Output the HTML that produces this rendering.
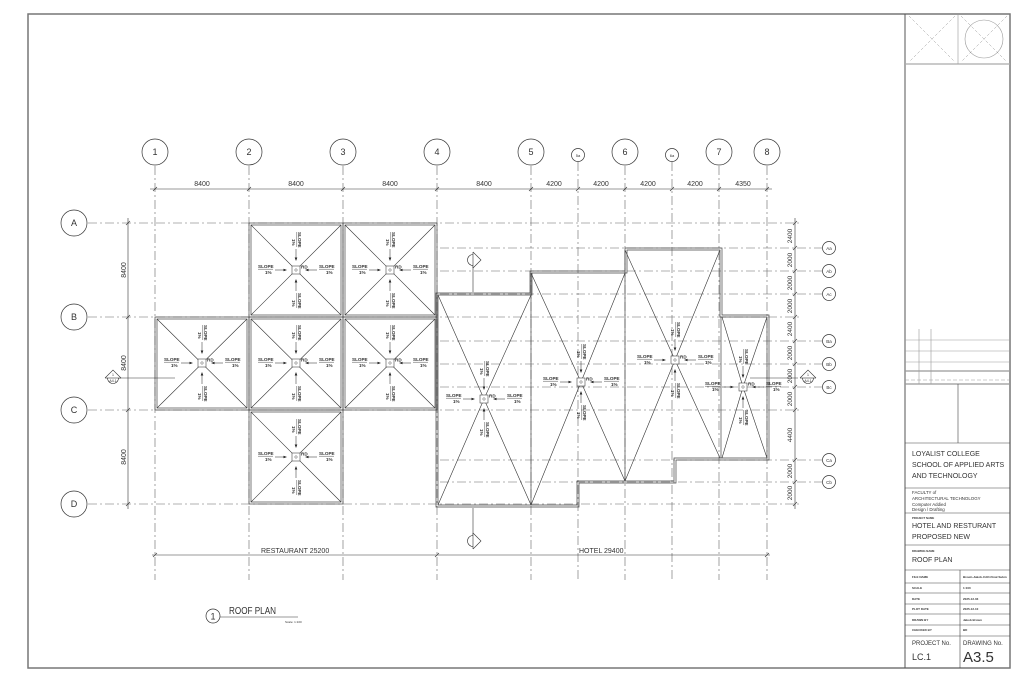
<!DOCTYPE html>
<html><head><meta charset="utf-8"><style>
html,body{margin:0;padding:0;background:#fff}
svg{display:block}
text{font-family:"Liberation Sans",sans-serif;fill:#333}
.g{stroke:#666;stroke-width:.6;stroke-dasharray:9 3 2 3;fill:none}
.l{stroke:#333;stroke-width:.6;fill:none}
.o{stroke:#444;stroke-width:.7;fill:none}
.b{fill:#fff;stroke:#333;stroke-width:.7}
.tb{stroke:#444;stroke-width:.6;fill:none}
</style></head><body>
<svg width="1024" height="682" viewBox="0 0 1024 682" xmlns="http://www.w3.org/2000/svg">
<defs>
<g id="lab" stroke="none">
<text x="-38" y="-2" font-size="4.6" font-weight="bold" fill="#222" font-family="Liberation Sans, sans-serif">SLOPE</text>
<line x1="-38" y1="-0.8" x2="-23" y2="-0.8" stroke="#222" stroke-width=".4"/>
<text x="-31" y="4" font-size="4.6" font-weight="bold" fill="#222" font-family="Liberation Sans, sans-serif">1%</text>
<line x1="-21" y1="0" x2="-11" y2="0" stroke="#222" stroke-width=".5"/><path d="M-9,0 l-3.5,-1.3 v2.6z" fill="#222"/>
<line x1="11" y1="0" x2="21" y2="0" stroke="#222" stroke-width=".5"/><path d="M9,0 l3.5,-1.3 v2.6z" fill="#222"/>
<text x="23" y="-2" font-size="4.6" font-weight="bold" fill="#222" font-family="Liberation Sans, sans-serif">SLOPE</text>
<line x1="23" y1="-0.8" x2="38" y2="-0.8" stroke="#222" stroke-width=".4"/>
<text x="30" y="4" font-size="4.6" font-weight="bold" fill="#222" font-family="Liberation Sans, sans-serif">1%</text>
</g>
<g id="dr">
<rect x="-4" y="-4" width="8" height="8" fill="#fff" stroke="#222" stroke-width=".5"/><circle r="1.2" fill="none" stroke="#222" stroke-width=".4"/>
<text x="5" y="-1.5" font-size="4.6" font-weight="bold" fill="#222" font-family="Liberation Sans, sans-serif">RD</text>
<use href="#lab"/><use href="#lab" transform="rotate(90)"/>
</g>
</defs>

<rect x="28" y="14" width="982" height="654" fill="none" stroke="#777" stroke-width="1.5"/>
<line x1="905" y1="14" x2="905" y2="668" stroke="#555" stroke-width="1"/>

<g class="g">
<line x1="155" y1="166" x2="155" y2="580"/>
<line x1="249" y1="166" x2="249" y2="580"/>
<line x1="343" y1="166" x2="343" y2="580"/>
<line x1="437" y1="166" x2="437" y2="580"/>
<line x1="531" y1="166" x2="531" y2="580"/>
<line x1="578" y1="162" x2="578" y2="580"/>
<line x1="625" y1="166" x2="625" y2="580"/>
<line x1="672" y1="162" x2="672" y2="580"/>
<line x1="719" y1="166" x2="719" y2="580"/>
<line x1="767" y1="166" x2="767" y2="580"/>
<line x1="88" y1="223" x2="800" y2="223"/>
<line x1="88" y1="317" x2="800" y2="317"/>
<line x1="88" y1="410" x2="800" y2="410"/>
<line x1="88" y1="504" x2="800" y2="504"/>
<line x1="440" y1="248" x2="822" y2="248"/>
<line x1="440" y1="271" x2="822" y2="271"/>
<line x1="440" y1="294" x2="822" y2="294"/>
<line x1="440" y1="341" x2="822" y2="341"/>
<line x1="440" y1="364" x2="822" y2="364"/>
<line x1="440" y1="387" x2="822" y2="387"/>
<line x1="440" y1="460" x2="822" y2="460"/>
<line x1="440" y1="482" x2="822" y2="482"/>
</g>

<g font-size="9" text-anchor="middle">
<circle class="b" cx="155" cy="152" r="13"/><text x="155" y="155">1</text>
<circle class="b" cx="249" cy="152" r="13"/><text x="249" y="155">2</text>
<circle class="b" cx="343" cy="152" r="13"/><text x="343" y="155">3</text>
<circle class="b" cx="437" cy="152" r="13"/><text x="437" y="155">4</text>
<circle class="b" cx="531" cy="152" r="13"/><text x="531" y="155">5</text>
<circle class="b" cx="625" cy="152" r="13"/><text x="625" y="155">6</text>
<circle class="b" cx="719" cy="152" r="13"/><text x="719" y="155">7</text>
<circle class="b" cx="767" cy="152" r="13"/><text x="767" y="155">8</text>
<circle class="b" cx="578" cy="155" r="6.5"/><text x="578" y="157" font-size="4">5a</text>
<circle class="b" cx="672" cy="155" r="6.5"/><text x="672" y="157" font-size="4">6a</text>
<circle class="b" cx="74" cy="223" r="13"/><text x="74" y="226">A</text>
<circle class="b" cx="74" cy="317" r="13"/><text x="74" y="320">B</text>
<circle class="b" cx="74" cy="410" r="13"/><text x="74" y="413">C</text>
<circle class="b" cx="74" cy="504" r="13"/><text x="74" y="507">D</text>
</g>
<g font-size="4.5" text-anchor="middle">
<circle class="b" cx="829" cy="248" r="6.5"/><text x="829" y="250">Aa</text>
<circle class="b" cx="829" cy="271" r="6.5"/><text x="829" y="273">Ab</text>
<circle class="b" cx="829" cy="294" r="6.5"/><text x="829" y="296">Ac</text>
<circle class="b" cx="829" cy="341" r="6.5"/><text x="829" y="343">Ba</text>
<circle class="b" cx="829" cy="364" r="6.5"/><text x="829" y="366">Bb</text>
<circle class="b" cx="829" cy="387" r="6.5"/><text x="829" y="389">Bc</text>
<circle class="b" cx="829" cy="460" r="6.5"/><text x="829" y="462">Ca</text>
<circle class="b" cx="829" cy="482" r="6.5"/><text x="829" y="484">Cb</text>
</g>

<g class="l">
<line x1="150" y1="189" x2="772" y2="189"/>
<path d="M153,191 l4,-4 M247,191 l4,-4 M341,191 l4,-4 M435,191 l4,-4 M529,191 l4,-4 M576,191 l4,-4 M623,191 l4,-4 M670,191 l4,-4 M717,191 l4,-4 M765,191 l4,-4"/>
</g>
<g font-size="7" text-anchor="middle" fill="#444">
<text x="202" y="186">8400</text><text x="296" y="186">8400</text><text x="390" y="186">8400</text><text x="484" y="186">8400</text>
<text x="554" y="186">4200</text><text x="601" y="186">4200</text><text x="648" y="186">4200</text><text x="695" y="186">4200</text><text x="743" y="186">4350</text>
</g>
<g class="l"><line x1="128" y1="218" x2="128" y2="509"/>
<path d="M126,225 l4,-4 M126,319 l4,-4 M126,412 l4,-4 M126,506 l4,-4"/></g>
<g font-size="7" text-anchor="middle">
<text transform="translate(126,270) rotate(-90)">8400</text>
<text transform="translate(126,363) rotate(-90)">8400</text>
<text transform="translate(126,457) rotate(-90)">8400</text>
</g>
<g class="l"><line x1="795" y1="218" x2="795" y2="509"/>
<path d="M793,225 l4,-4 M793,250 l4,-4 M793,273 l4,-4 M793,296 l4,-4 M793,319 l4,-4 M793,343 l4,-4 M793,366 l4,-4 M793,389 l4,-4 M793,412 l4,-4 M793,462 l4,-4 M793,484 l4,-4 M793,506 l4,-4"/></g>
<g font-size="6.5" text-anchor="middle">
<text transform="translate(792,236) rotate(-90)">2400</text>
<text transform="translate(792,260) rotate(-90)">2000</text>
<text transform="translate(792,283) rotate(-90)">2000</text>
<text transform="translate(792,306) rotate(-90)">2000</text>
<text transform="translate(792,329) rotate(-90)">2400</text>
<text transform="translate(792,353) rotate(-90)">2000</text>
<text transform="translate(792,376) rotate(-90)">2000</text>
<text transform="translate(792,399) rotate(-90)">2000</text>
<text transform="translate(792,435) rotate(-90)">4400</text>
<text transform="translate(792,471) rotate(-90)">2000</text>
<text transform="translate(792,493) rotate(-90)">2000</text>
</g>

<g class="o">
<rect x="249" y="223" width="94" height="94"/><rect x="251" y="225" width="90" height="90"/>
<rect x="343" y="223" width="94" height="94"/><rect x="345" y="225" width="90" height="90"/>
<rect x="155" y="317" width="94" height="93"/><rect x="157" y="319" width="90" height="89"/>
<rect x="249" y="317" width="94" height="93"/><rect x="251" y="319" width="90" height="89"/>
<rect x="343" y="317" width="94" height="93"/><rect x="345" y="319" width="90" height="89"/>
<rect x="249" y="410" width="94" height="94"/><rect x="251" y="412" width="90" height="90"/>
</g>
<g class="l" stroke-width=".5">
<path d="M251,225 L341,315 M341,225 L251,315"/>
<path d="M345,225 L435,315 M435,225 L345,315"/>
<path d="M157,319 L247,408 M247,319 L157,408"/>
<path d="M251,319 L341,408 M341,319 L251,408"/>
<path d="M345,319 L435,408 M435,319 L345,408"/>
<path d="M251,412 L341,502 M341,412 L251,502"/>
</g>

<g class="o">
<path d="M436,293 H530 V271 H625 V248 H722 V315 H769 V460 H676 V483 H579 V507 H436 Z"/>
<path d="M438,295 H532 V273 H627 V250 H720 V317 H767 V458 H674 V481 H577 V505 H438 Z"/>
<line x1="531" y1="273" x2="531" y2="505"/>
<line x1="625" y1="250" x2="625" y2="481"/>
<line x1="721" y1="317" x2="721" y2="458"/>
</g>
<g class="l" stroke-width=".5">
<path d="M438,295 L484,399 L531,505 M531,295 L484,399 L438,505"/>
<path d="M531,273 L581,382 L625,481 M625,273 L581,382 L531,505"/>
<path d="M625,250 L675,360 L720,458 M720,250 L675,360 L625,481"/>
<path d="M722,317 L743,387 L767,458 M767,317 L743,387 L722,458"/>
</g>

<use href="#dr" x="296" y="270"/>
<use href="#dr" x="390" y="270"/>
<use href="#dr" x="202" y="363"/>
<use href="#dr" x="296" y="363"/>
<use href="#dr" x="390" y="363"/>
<use href="#dr" x="296" y="457"/>
<use href="#dr" x="484" y="399"/>
<use href="#dr" x="581" y="382"/>
<use href="#dr" x="675" y="360"/>
<use href="#dr" x="743" y="387"/>

<g class="l">
<line x1="118" y1="378" x2="175" y2="378"/>
<circle cx="113" cy="378" r="5.5" fill="#fff"/><path d="M105,378 L113,370 L121,378" fill="#fff"/><line x1="105" y1="378" x2="121" y2="378"/>
<line x1="798" y1="378" x2="750" y2="378"/>
<circle cx="808" cy="378" r="5.5" fill="#fff"/><path d="M800,378 L808,370 L816,378" fill="#fff"/><line x1="800" y1="378" x2="816" y2="378"/>
<line x1="473" y1="260" x2="473" y2="292"/>
<circle cx="473" cy="260" r="5.5" fill="#fff"/><path d="M473,252 L481,260 L473,268" fill="#fff"/><line x1="473" y1="252" x2="473" y2="268"/>
<line x1="473" y1="508" x2="473" y2="541"/>
<circle cx="473" cy="541" r="5.5" fill="#fff"/><path d="M473,533 L481,541 L473,549" fill="#fff"/><line x1="473" y1="533" x2="473" y2="549"/>
</g>
<g font-size="3.5" text-anchor="middle">
<text x="113" y="376">1</text><text x="113" y="382">A4.1</text>
<text x="808" y="376">1</text><text x="808" y="382">A4.1</text>
</g>

<g class="l"><line x1="152" y1="555" x2="770" y2="555"/>
<path d="M153,557 l4,-4 M435,557 l4,-4 M765,557 l4,-4"/></g>
<text x="261" y="553" font-size="7" fill="#444">RESTAURANT 25200</text>
<text x="579" y="553" font-size="7" fill="#444">HOTEL 29400</text>

<circle cx="213" cy="616" r="7" fill="none" stroke="#333" stroke-width=".7"/>
<text x="213" y="619.5" font-size="9" text-anchor="middle">1</text>
<line x1="220" y1="617" x2="298" y2="617" class="l"/>
<text x="229" y="614" font-size="10.5" textLength="47" lengthAdjust="spacingAndGlyphs">ROOF PLAN</text>
<text x="285" y="623" font-size="3">Scale: 1:100</text>

<g class="tb">
<line x1="905" y1="64" x2="1010" y2="64" stroke="#aaa" stroke-width="1.2"/>
<line x1="958" y1="14" x2="958" y2="64" stroke="#999"/>
<path d="M909,16 L955,62 M955,16 L909,62 M961,16 L1007,62 M1007,16 L961,62" stroke="#999" stroke-width=".5" stroke-dasharray="3 2"/>
<circle cx="984" cy="39" r="19" stroke="#999"/>
<g stroke="#999">
<line x1="905" y1="340" x2="1010" y2="340"/>
<line x1="905" y1="351" x2="1010" y2="351"/>
<line x1="905" y1="362" x2="1010" y2="362"/>
<line x1="905" y1="371" x2="1010" y2="371" stroke-width="1.2"/>
<line x1="905" y1="380" x2="1010" y2="380" stroke-dasharray="4 2"/>
<line x1="905" y1="384" x2="1010" y2="384" stroke-width="1.2"/>
<line x1="919" y1="329" x2="919" y2="384"/>
<line x1="931" y1="329" x2="931" y2="384"/>
</g>
<line x1="958" y1="384" x2="958" y2="443"/>
<line x1="905" y1="443" x2="1010" y2="443"/>
<line x1="905" y1="488" x2="1010" y2="488"/>
<line x1="905" y1="513" x2="1010" y2="513"/>
<line x1="905" y1="545" x2="1010" y2="545"/>
<line x1="905" y1="570" x2="1010" y2="570"/>
<line x1="905" y1="583" x2="1010" y2="583"/>
<line x1="905" y1="593" x2="1010" y2="593"/>
<line x1="905" y1="604" x2="1010" y2="604"/>
<line x1="905" y1="614" x2="1010" y2="614"/>
<line x1="905" y1="625" x2="1010" y2="625"/>
<line x1="905" y1="636" x2="1010" y2="636"/>
<line x1="960" y1="570" x2="960" y2="668"/>
</g>
<g font-size="7" fill="#333">
<text x="912" y="456">LOYALIST COLLEGE</text>
<text x="912" y="467">SCHOOL OF APPLIED ARTS</text>
<text x="912" y="478">AND TECHNOLOGY</text>
</g>
<g font-size="4.4" fill="#333">
<text x="912" y="494">FACULTY of</text>
<text x="912" y="500">ARCHITECTURAL TECHNOLOGY</text>
<text x="912" y="506">Computer Addied</text>
<text x="912" y="511">Design / Drafting</text>
</g>
<text x="912" y="519" font-size="2.8" font-weight="bold">PROJECT NAME</text>
<text x="912" y="528" font-size="7">HOTEL AND RESTURANT</text>
<text x="912" y="539" font-size="7">PROPOSED NEW</text>
<text x="912" y="552" font-size="2.8" font-weight="bold">DRAWING NAME</text>
<text x="912" y="562" font-size="7">ROOF PLAN</text>
<g font-size="3" font-weight="bold">
<text x="912" y="578">FILE NAME</text><text x="963" y="578">Brown-Jakob-CAD-Final Subm</text>
<text x="912" y="589">SCALE</text><text x="963" y="589">1:100</text>
<text x="912" y="600">DATE</text><text x="963" y="600">2025-12-03</text>
<text x="912" y="610">PLOT DATE</text><text x="963" y="610">2025-12-10</text>
<text x="912" y="621">DRAWN BY</text><text x="963" y="621">Jakob Brown</text>
<text x="912" y="631">CHECKED BY</text><text x="963" y="631">BD</text>
</g>
<text x="912" y="645" font-size="6">PROJECT No.</text>
<text x="912" y="660" font-size="9">LC.1</text>
<text x="963" y="645" font-size="6">DRAWING No.</text>
<text x="963" y="662" font-size="15">A3.5</text>
</svg>
</body></html>
